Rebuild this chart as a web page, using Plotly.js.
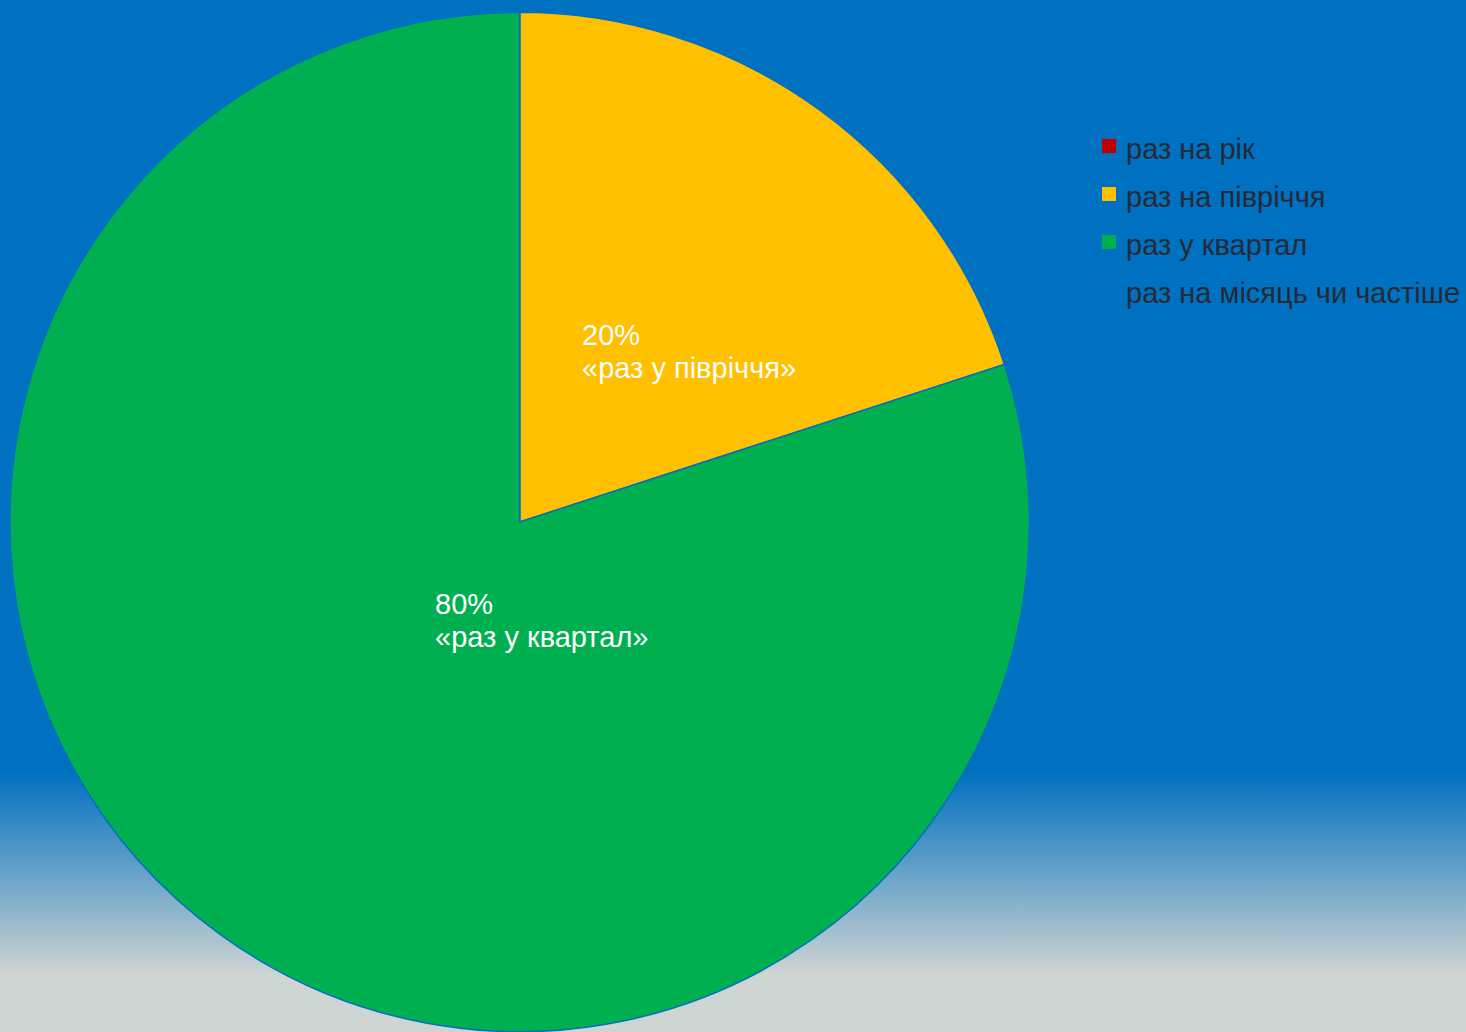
<!DOCTYPE html>
<html>
<head>
<meta charset="utf-8">
<script src="https://cdn.plot.ly/plotly-3.0.1.min.js"></script>
<style>
  html, body { margin: 0; padding: 0; }
  #wrap {
    width: 1466px; height: 1032px;
    background: linear-gradient(to bottom, #0070C0 0px, #0070C0 772px, #CFD5D2 975px, #CFD5D2 1032px);
  }
  #chart { width: 1466px; height: 1032px; }
</style>
</head>
<body>
<div id="wrap"><div id="chart"></div></div>
<script>
// Data
const categories = ['раз на рік', 'раз на півріччя', 'раз у квартал', 'раз на місяць чи частіше'];
const values = [0, 20, 80, 0];
const sliceColors = ['#C00000', '#FFC000', '#00B050', '#0070C0'];
const labelNames = ['', '«раз у півріччя»', '«раз у квартал»', ''];

const FONT = 'Liberation Sans, Arial, sans-serif';
const legendText = categories.map(c => '<span style="font-size:29px">' + c + '</span>');

const trace = {
  type: 'pie',
  labels: legendText,
  values: values,
  sort: false,
  direction: 'clockwise',
  rotation: 0,
  textinfo: 'none',
  hoverinfo: 'label+percent',
  marker: { colors: sliceColors, line: { color: '#0070C0', width: 1.5 } },
  domain: { x: [10 / 1466, 1030 / 1466], y: [0, 1 - 12 / 1032] },
  showlegend: true
};

// In-slice labels (percent + name), left aligned as in the reference
const total = values.reduce((a, b) => a + b, 0);
const labelAnchors = [null, { x: 580, y: 352 }, { x: 433, y: 620 }, null];
const annotations = [];
values.forEach((v, i) => {
  if (!v || !labelAnchors[i]) return;
  annotations.push({
    xref: 'paper', yref: 'paper',
    x: labelAnchors[i].x / 1466, y: 1 - labelAnchors[i].y / 1032,
    xanchor: 'left', yanchor: 'middle', align: 'left',
    showarrow: false,
    text: '<span style="font-size:29px">' + Math.round(v / total * 100) + '%</span><br>' +
          '<span style="font-size:29px">' + labelNames[i] + '</span>',
    font: { family: FONT, size: 25, color: '#FFFFFF' }
  });
});

const layout = {
  width: 1466, height: 1032,
  margin: { l: 0, r: 0, t: 0, b: 0 },
  paper_bgcolor: 'rgba(0,0,0,0)',
  plot_bgcolor: 'rgba(0,0,0,0)',
  font: { family: FONT },
  showlegend: true,
  legend: {
    x: 1087 / 1466, xanchor: 'left',
    y: 1 - 117 / 1032, yanchor: 'top',
    bgcolor: 'rgba(0,0,0,0)',
    font: { family: FONT, size: 34.6, color: '#262A36' },
    traceorder: 'normal'
  },
  annotations: annotations
};

Plotly.newPlot('chart', [trace], layout, { displayModeBar: false, staticPlot: true }).then(() => {
  // slightly larger, borderless legend squares as in the reference
  document.querySelectorAll('#chart path.legendpie').forEach(p => {
    p.setAttribute('d', 'M10,7H-4V-7H10Z');
    p.style.strokeWidth = '0px';
  });
});
</script>
</body>
</html>
